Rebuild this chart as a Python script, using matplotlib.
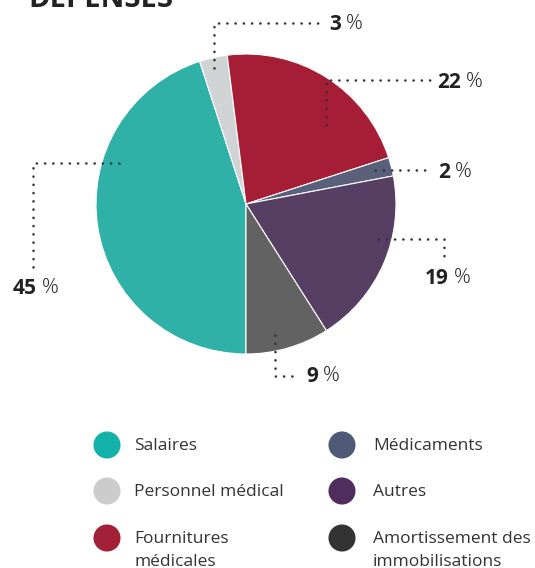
import matplotlib.pyplot as plt

plt.rcParams['font.family'] = ['Open Sans', 'DejaVu Sans']

# donnees
categories = ["Salaires", "Personnel médical", "Fournitures\nmédicales",
              "Médicaments", "Autres", "Amortissement des\nimmobilisations"]
valeurs = [45, 3, 22, 2, 19, 9]
couleurs_pie = ["#2fb1a8", "#d1d4d5", "#a51e36", "#59607a", "#573f63", "#626262"]
couleurs_leg = ["#13b2a9", "#cccccc", "#a32136", "#4f5a77", "#4f2e5e", "#333333"]

W, H = 535, 568
fig = plt.figure(figsize=(W / 100, H / 100), dpi=100)
ax = fig.add_axes([0, 0, 1, 1])

def py(y):
    # coordonnees pixel depuis le haut
    return H - y

# camembert
ax.pie(valeurs, colors=couleurs_pie, startangle=-90, counterclock=False,
       center=(246, py(204)), radius=150, frame=True,
       wedgeprops=dict(edgecolor='white', linewidth=0.8))
ax.set_xlim(0, W)
ax.set_ylim(0, H)
ax.set_aspect('equal')
ax.axis('off')

# titre (coupe en haut)
ax.text(28, py(7), "DÉPENSES", fontsize=21, fontweight='bold', color='#222222',
        ha='left', va='baseline')

# lignes de rappel (pointilles) et position des etiquettes
rappels = [
    ([(119, 163), (33, 163), (33, 270)], (36, 288), 'center'),
    ([(214, 68), (214, 23), (320, 23)], (329, 24), 'left'),
    ([(326, 125), (326, 80), (432, 80)], (437, 82), 'left'),
    ([(375, 170), (430, 170)], (438, 172), 'left'),
    ([(378, 239), (444, 239), (444, 260)], (448, 278), 'center'),
    ([(275, 335), (275, 376), (300, 376)], (306, 376), 'left'),
]

fig.canvas.draw()
renderer = fig.canvas.get_renderer()

for val, (pts, (tx, ty), ha) in zip(valeurs, rappels):
    xs = [p[0] for p in pts]
    ys = [py(p[1]) for p in pts]
    ax.plot(xs, ys, color='#333333', lw=1.8, linestyle=(0, (0.1, 3.2)),
            dash_capstyle='round', solid_capstyle='round')
    t1 = ax.text(0, 0, str(val), fontsize=15, fontweight='bold', color='#222222',
                 va='center')
    t2 = ax.text(0, 0, "%", fontsize=15, fontweight='light', color='#222222',
                 va='center')
    w1 = t1.get_window_extent(renderer).width
    w2 = t2.get_window_extent(renderer).width
    gap = 5
    total = w1 + gap + w2
    x0 = tx if ha == 'left' else tx - total / 2
    t1.set_position((x0, py(ty)))
    t2.set_position((x0 + w1 + gap, py(ty)))

# legende
lignes_y = [445, 491, 538]
col_x = [(107, 134), (342, 373)]
for i, (cat, c) in enumerate(zip(categories, couleurs_leg)):
    col, row = divmod(i, 3)
    cx, tx = col_x[col]
    y = lignes_y[row]
    ax.scatter([cx], [py(y)], s=380, color=c, edgecolors='none')
    ax.text(tx, py(y - 7), cat, fontsize=12.5, color='#333333',
            ha='left', va='top', linespacing=1.55)

fig.savefig("out.png", dpi=100)
